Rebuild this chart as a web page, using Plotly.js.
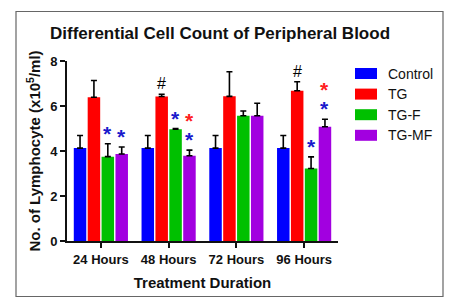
<!DOCTYPE html>
<html>
<head>
<meta charset="utf-8">
<script src="https://cdn.plot.ly/plotly-3.0.1.min.js"></script>
<style>
html,body{margin:0;padding:0;background:#fff;}
#chart{width:460px;height:307px;}
</style>
</head>
<body>
<div id="chart"></div>
<script>
// ---- data ----
var categories = ["24 Hours", "48 Hours", "72 Hours", "96 Hours"];
var seriesNames = ["Control", "TG", "TG-F", "TG-MF"];
var seriesColors = ["#0000ff", "#ff0000", "#00c000", "#a200e0"];
var controlMean = [4.13, 4.13, 4.13, 4.13];
var controlErr  = [0.56, 0.56, 0.56, 0.56];
var tgMean  = [6.39, 6.42, 6.43, 6.68];
var tgErr   = [0.74, 0.10, 1.09, 0.40];
var tgfMean = [3.75, 4.97, 5.57, 3.22];
var tgfErr  = [0.57, 0.03, 0.21, 0.52];
var tgmfMean = [3.87, 3.79, 5.57, 5.08];
var tgmfErr  = [0.31, 0.25, 0.55, 0.33];
// significance markers: [category index, series index, symbol, colour, stack level]
var markers = [
  [0, 2, "*", "#1a1acc", 0],
  [0, 3, "*", "#1a1acc", 0],
  [1, 1, "#", "#000000", 0],
  [1, 2, "*", "#1a1acc", 0],
  [1, 3, "*", "#1a1acc", 0],
  [1, 3, "*", "#ff2020", 1],
  [3, 1, "#", "#000000", 0],
  [3, 2, "*", "#1a1acc", 0],
  [3, 3, "*", "#1a1acc", 0],
  [3, 3, "*", "#ff2020", 1]
];

var means = [controlMean, tgMean, tgfMean, tgmfMean];
var errs = [controlErr, tgErr, tgfErr, tgmfErr];

var bargap = 0.18;
var traces = seriesNames.map(function(name, i){
  return {
    type: "bar",
    name: name,
    x: categories,
    y: means[i],
    marker: {color: seriesColors[i], line: {width: 0}},
    error_y: {type: "data", symmetric: false, array: errs[i],
              arrayminus: errs[i].map(function(){return 0;}),
              color: "#000", thickness: 1.6, width: 3},
    showlegend: false,
    hoverinfo: "skip"
  };
});

var font = "Liberation Sans, Arial, sans-serif";
var slot = (1 - bargap) / seriesNames.length;
var annotations = markers.map(function(m){
  var c = m[0], s = m[1];
  var top = means[s][c] + errs[s][c];
  var isHash = m[2] === "#";
  return {
    x: c + (s - (seriesNames.length - 1) / 2) * slot,
    xref: "x", y: top, yref: "y",
    text: m[2], showarrow: false,
    yanchor: "bottom",
    yshift: isHash ? 0 : (-3 + m[4] * 19),
    font: {family: font, size: isHash ? 16 : 21, color: m[3], weight: isHash ? "normal" : "bold"}
  };
});

// custom legend
var shapes = [];
var legX0 = 355, legW = 22, legH = 11, legY0 = 73.5, legStep = 20.6;
var W = 460, H = 307, mL = 67, mR = 122, mT = 61, mB = 66;
var pw = W - mL - mR, ph = H - mT - mB;
function px2paperX(px){ return (px - mL) / pw; }
function px2paperY(py){ return (H - mB - py) / ph; }
seriesNames.forEach(function(name, i){
  var cy = legY0 + i * legStep;
  shapes.push({type: "rect", xref: "paper", yref: "paper",
    x0: px2paperX(legX0), x1: px2paperX(legX0 + legW),
    y0: px2paperY(cy + legH / 2), y1: px2paperY(cy - legH / 2),
    fillcolor: seriesColors[i], line: {width: 0}});
  annotations.push({xref: "paper", yref: "paper", x: px2paperX(386), y: px2paperY(cy),
    xanchor: "left", yanchor: "middle", text: name, showarrow: false,
    font: {family: font, size: 14, color: "#111"}});
});
// outer frame
shapes.push({type: "rect", xref: "paper", yref: "paper",
  x0: px2paperX(16), x1: px2paperX(443), y0: px2paperY(296.5), y1: px2paperY(11.5),
  line: {color: "#666", width: 1.2}, fillcolor: "rgba(0,0,0,0)"});

var layout = {
  width: W, height: H,
  margin: {l: mL, r: mR, t: mT, b: mB, pad: 0},
  paper_bgcolor: "#fff", plot_bgcolor: "#fff",
  barmode: "group", bargap: bargap, bargroupgap: 0.1,
  title: {text: "<b>Differential Cell Count of Peripheral Blood</b>",
    font: {family: font, size: 17, color: "#111"},
    x: 220 / W, xanchor: "center", y: 1 - 33 / H, yanchor: "middle"},
  xaxis: {
    type: "category", range: [-0.5, 3.5],
    showline: true, linecolor: "#111", linewidth: 2,
    ticks: "outside", ticklen: 5, tickwidth: 2, tickcolor: "#111",
    tickfont: {family: font, size: 13, color: "#111", weight: "bold"},
    title: {text: "<b>Treatment Duration</b>", font: {family: font, size: 15, color: "#111"}, standoff: 12},
    showgrid: false, zeroline: false, fixedrange: true
  },
  yaxis: {
    range: [0, 8], tickvals: [0, 2, 4, 6, 8],
    showline: true, linecolor: "#111", linewidth: 2,
    ticks: "outside", ticklen: 5, tickwidth: 2, tickcolor: "#111",
    tickfont: {family: font, size: 13, color: "#111", weight: "bold"},
    title: {text: "<b>No. of Lymphocyte (x10<sup>5</sup>/ml)</b>", font: {family: font, size: 15, color: "#111"}, standoff: 6},
    showgrid: false, zeroline: false, fixedrange: true
  },
  annotations: annotations,
  shapes: shapes,
  showlegend: false
};

Plotly.newPlot("chart", traces, layout, {displayModeBar: false, staticPlot: true});
</script>
</body>
</html>
